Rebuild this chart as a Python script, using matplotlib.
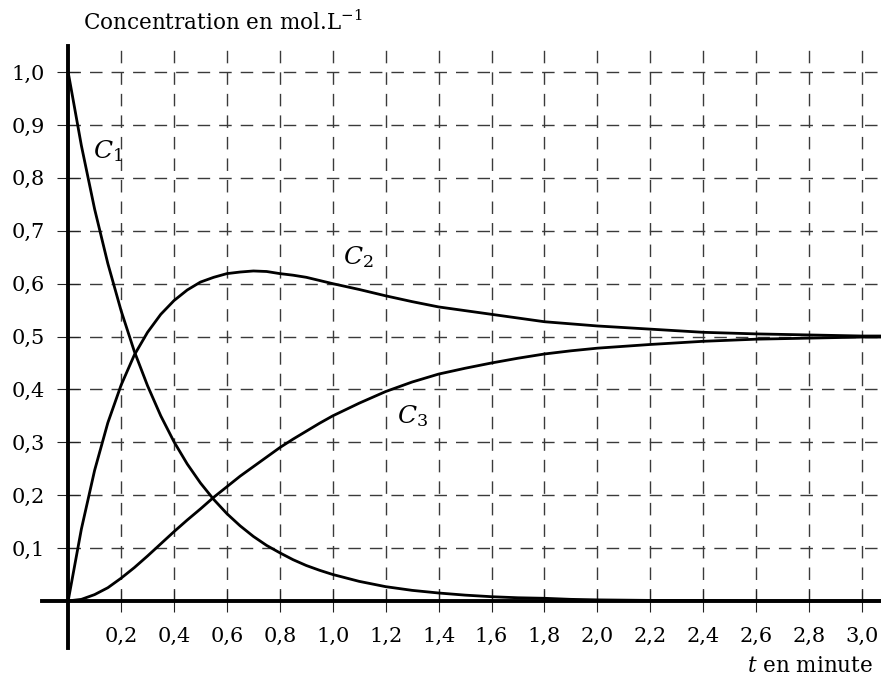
import numpy as np
import matplotlib
matplotlib.use("Agg")
import matplotlib.pyplot as plt

plt.rcParams['font.family'] = ['DejaVu Serif']
plt.rcParams['mathtext.fontset'] = 'dejavuserif'

# temps en minute
t = [0, 0.05, 0.1, 0.15, 0.2, 0.25, 0.3, 0.35, 0.4, 0.45, 0.5, 0.55, 0.6, 0.65, 0.7, 0.75,
     0.8, 0.85, 0.9, 0.95, 1.0, 1.1, 1.2, 1.3, 1.4, 1.5, 1.6, 1.7, 1.8, 1.9, 2.0,
     2.2, 2.4, 2.6, 2.8, 3.0, 3.1]
# concentrations (mol/L)
c1 = [1.0, 0.861, 0.741, 0.638, 0.549, 0.472, 0.407, 0.350, 0.301, 0.259, 0.223, 0.192, 0.165,
      0.142, 0.122, 0.105, 0.091, 0.078, 0.067, 0.058, 0.050, 0.037, 0.027, 0.020, 0.015,
      0.011, 0.008, 0.006, 0.005, 0.003, 0.002, 0.001, 0.001, 0.0, 0.0, 0.0, 0.0]
c2 = [0.0, 0.136, 0.247, 0.337, 0.408, 0.465, 0.508, 0.542, 0.568, 0.588, 0.603, 0.612, 0.619,
      0.622, 0.624, 0.623, 0.619, 0.616, 0.612, 0.606, 0.600, 0.589, 0.577, 0.566, 0.556,
      0.549, 0.542, 0.535, 0.528, 0.524, 0.520, 0.514, 0.508, 0.505, 0.503, 0.501, 0.501]
c3 = [0.0, 0.003, 0.012, 0.025, 0.043, 0.063, 0.085, 0.108, 0.131, 0.153, 0.174, 0.196, 0.216,
      0.236, 0.254, 0.272, 0.290, 0.306, 0.321, 0.336, 0.350, 0.374, 0.396, 0.414, 0.429,
      0.440, 0.450, 0.459, 0.467, 0.473, 0.478, 0.485, 0.491, 0.495, 0.497, 0.499, 0.499]

xticks = [0.2, 0.4, 0.6, 0.8, 1.0, 1.2, 1.4, 1.6, 1.8, 2.0, 2.2, 2.4, 2.6, 2.8, 3.0]
yticks = [0.1, 0.2, 0.3, 0.4, 0.5, 0.6, 0.7, 0.8, 0.9, 1.0]
xlabels = ['0,2', '0,4', '0,6', '0,8', '1,0', '1,2', '1,4', '1,6', '1,8', '2,0',
           '2,2', '2,4', '2,6', '2,8', '3,0']
ylabels = ['0,1', '0,2', '0,3', '0,4', '0,5', '0,6', '0,7', '0,8', '0,9', '1,0']

W, H = 881, 677
fig = plt.figure(figsize=(W / 100, H / 100), dpi=100)
ax = fig.add_axes([41.7 / W, 1 - 648 / H, (W - 41.7) / W, (648 - 45.7) / H])
xmin, xmax = -0.1, 3.072
ymin, ymax = -0.089, 1.05
ax.set_xlim(xmin, xmax)
ax.set_ylim(ymin, ymax)

# quadrillage en pointilles
grid_style = dict(color='#3a3a3a', lw=1.0, linestyle=(0, (9, 6.5)), zorder=1)
ax.hlines(yticks, 0, xmax, **grid_style)
ax.vlines(xticks, 0, ymax, **grid_style)

# axes
for side in ['top', 'right']:
    ax.spines[side].set_visible(False)
ax.spines['left'].set_position(('data', 0))
ax.spines['bottom'].set_position(('data', 0))
ax.spines['left'].set_bounds(ymin, ymax)
ax.spines['bottom'].set_bounds(xmin, xmax)
for side in ['left', 'bottom']:
    ax.spines[side].set_linewidth(2.8)
    ax.spines[side].set_zorder(4)

ax.set_xticks(xticks)
ax.set_xticklabels(xlabels)
ax.set_yticks(yticks)
ax.set_yticklabels(ylabels)
ax.tick_params(axis='both', direction='inout', length=16, width=0.8,
               color='#222222', labelsize=15)
ax.tick_params(axis='x', pad=11)
ax.tick_params(axis='y', pad=9)

# courbes
for c in (c1, c2, c3):
    ax.plot(t, c, color='black', lw=2.0, zorder=3, solid_joinstyle='round')

ax.text(0.094, 0.85, r'$C_1$', fontsize=18, ha='left', va='center')
ax.text(1.04, 0.65, r'$C_2$', fontsize=18, ha='left', va='center')
ax.text(1.243, 0.35, r'$C_3$', fontsize=18, ha='left', va='center')

fig.text(83 / W, 1 - 30 / H, r'Concentration en mol.L$^{-1}$', fontsize=15.5,
         ha='left', va='baseline')
fig.text(873 / W, 1 - 672 / H, r'$t$ en minute', fontsize=15.5,
         ha='right', va='baseline')

fig.savefig('out.png', dpi=100)
